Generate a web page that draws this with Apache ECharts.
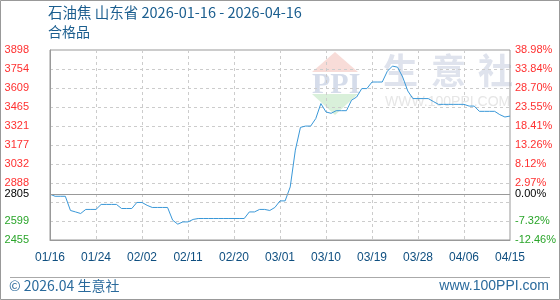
<!DOCTYPE html>
<html><head><meta charset="utf-8">
<script src="https://cdn.jsdelivr.net/npm/echarts@6/dist/echarts.min.js"></script>
<style>html,body{margin:0;padding:0;background:#fff}#c{width:560px;height:300px}</style>
</head><body><div id="c"></div>
<script>
const titleText = '石油焦 山东省 2026-01-16 - 2026-04-16';
const subtitleText = '合格品';
const startDate = '2026-01-16';
const dayCount = 91;
const xTickLabels = ['01/16','01/24','02/02','02/11','02/20','03/01','03/10','03/19','03/28','04/06','04/15'];
const baseValue = 2805;
const yMin = 2456.5, yStep = 144.5, yMax = 3901.5;
const yLeftLabels = ['2455','2599','','2888','3032','3177','3321','3465','3609','3754','3898'];
const yRightLabels = ['-12.46%','-7.32%','','2.97%','8.12%','13.26%','18.41%','23.55%','28.70%','33.84%','38.98%'];
const prices = [
 2805,2789,2789,2789,2681,2670,2658,2689,2689,2689,
 2727,2727,2727,2727,2696,2696,2696,2742,2742,2720,
 2704,2704,2704,2704,2607,2577,2594,2594,2613,2620,
 2620,2620,2620,2620,2620,2620,2620,2620,2620,2670,
 2670,2689,2689,2681,2704,2754,2754,2860,3140,3313,
 3323,3323,3380,3494,3430,3420,3440,3440,3440,3520,
 3544,3608,3608,3658,3658,3658,3740,3779,3771,3696,
 3590,3532,3532,3532,3532,3510,3488,3488,3488,3488,
 3488,3488,3475,3475,3435,3435,3435,3435,3410,3392,
 3399
];
const footerLeft = '© 2026.04 生意社';
const footerRight = 'www.100PPI.com';

const categories = [];
{
  const d0 = new Date(startDate + 'T00:00:00Z');
  for (let i = 0; i < dayCount; i++) {
    const d = new Date(d0.getTime() + i * 86400000);
    categories.push(String(d.getUTCMonth()+1).padStart(2,'0') + '/' + String(d.getUTCDate()).padStart(2,'0'));
  }
}
const tickIdx = v => Math.round((v - yMin) / yStep);
const labelFont = 'Liberation Sans, Arial, sans-serif';
const cjkFont = 'Noto Sans CJK SC, sans-serif';

const chart = echarts.init(document.getElementById('c'), null, {renderer:'canvas'});
chart.setOption({
  animation: false,
  backgroundColor: '#fff',
  grid: {left: 50, right: 50, top: 50, bottom: 60, show: true, borderColor: '#999', borderWidth: 1},
  graphic: [
    {type:'rect', shape:{x:0.5,y:0.5,width:559,height:299}, style:{fill:'none', stroke:'#999', lineWidth:1}, silent:true},
    {type:'line', shape:{x1:10,y1:277.5,x2:550,y2:277.5}, style:{stroke:'#aaa', lineWidth:1}, silent:true},
    {type:'text', left: 48, top: 5, style:{text: titleText, font: '14.5px ' + cjkFont, fill:'#1b5e8f'}, silent:true},
    {type:'text', left: 48, top: 25, style:{text: subtitleText, font: '14px ' + cjkFont, fill:'#1b5e8f'}, silent:true},
    {type:'text', left: 9, top: 279, style:{text: footerLeft, font: '14px ' + cjkFont, fill:'#2a6a9c'}, silent:true},
    {type:'text', right: 11, top: 279, style:{text: footerRight, font: '14px ' + labelFont, fill:'#2a6a9c'}, silent:true},
    {type:'polygon', shape:{points:[[312,72],[335,52],[358,72]]}, style:{fill:'#f8dcd8'}, silent:true, z:-1},
    {type:'polygon', shape:{points:[[312,94],[358,94],[335,115]]}, style:{fill:'#d9f0da'}, silent:true, z:-1},
    {type:'text', x: 312, y: 70, style:{text:'PPI', font:'bold 30px Liberation Serif, serif', fill:'#d5dcea'}, silent:true, z:-1},
    {type:'text', x: 383, y: 53, style:{text:'生', font:'bold 35px ' + cjkFont, fill:'#dfe3ed'}, silent:true, z:-1},
    {type:'text', x: 431, y: 53, style:{text:'意', font:'bold 35px ' + cjkFont, fill:'#dfe3ed'}, silent:true, z:-1},
    {type:'text', x: 478, y: 53, style:{text:'社', font:'bold 35px ' + cjkFont, fill:'#dfe3ed'}, silent:true, z:-1},
    {type:'text', x: 385, y: 95, style:{text:'WWW.100PPI.COM', font:'14px ' + labelFont, fill:'#e6e6e6'}, silent:true, z:-1}
  ],
  xAxis: {
    type: 'category', data: categories, boundaryGap: false,
    axisLine: {lineStyle: {color: '#999'}},
    axisTick: {show: false, interval: 8},
    axisLabel: {interval: 8, margin: 12, color: '#0f4f80', fontSize: 12, fontFamily: labelFont,
      formatter: (v, i) => xTickLabels[Math.round(i / 9)] || ''},
    splitLine: {show: true, interval: 8, lineStyle: {color: '#ccc', type: [3, 3]}}
  },
  yAxis: [
    {type:'value', min: yMin, max: yMax, interval: yStep, position:'left',
     axisLine:{show:true, lineStyle:{color:'#999'}}, axisTick:{show:false},
     splitLine:{show:true, lineStyle:{color:'#ccc', type:[3,3]}},
     axisLabel:{margin: 21, fontSize: 11, fontFamily: labelFont,
       color: v => (Number(v) > baseValue ? '#ff3030' : '#2aa52a'),
       formatter: v => yLeftLabels[tickIdx(v)] ?? ''}},
    {type:'value', min: yMin, max: yMax, interval: yStep, position:'right',
     axisLine:{show:false}, axisTick:{show:false}, splitLine:{show:false},
     axisLabel:{margin: 5, fontSize: 11, fontFamily: labelFont,
       color: v => (Number(v) > baseValue ? '#ff3030' : '#2aa52a'),
       formatter: v => yRightLabels[tickIdx(v)] ?? ''}}
  ],
  series: [{
    type: 'line', data: prices, symbol: 'none',
    lineStyle: {color: '#3a98d8', width: 1},
    markLine: {
      silent: true, symbol: 'none', animation: false,
      lineStyle: {color: '#999', type: 'solid', width: 1},
      data: [
        {yAxis: baseValue, label: {position: 'start', distance: 21, formatter: String(baseValue), color: '#000', fontSize: 11, fontFamily: labelFont}},
        {yAxis: baseValue, label: {position: 'end', distance: 5, formatter: '0.00%', color: '#000', fontSize: 11, fontFamily: labelFont}}
      ]
    }
  }]
});
</script></body></html>
